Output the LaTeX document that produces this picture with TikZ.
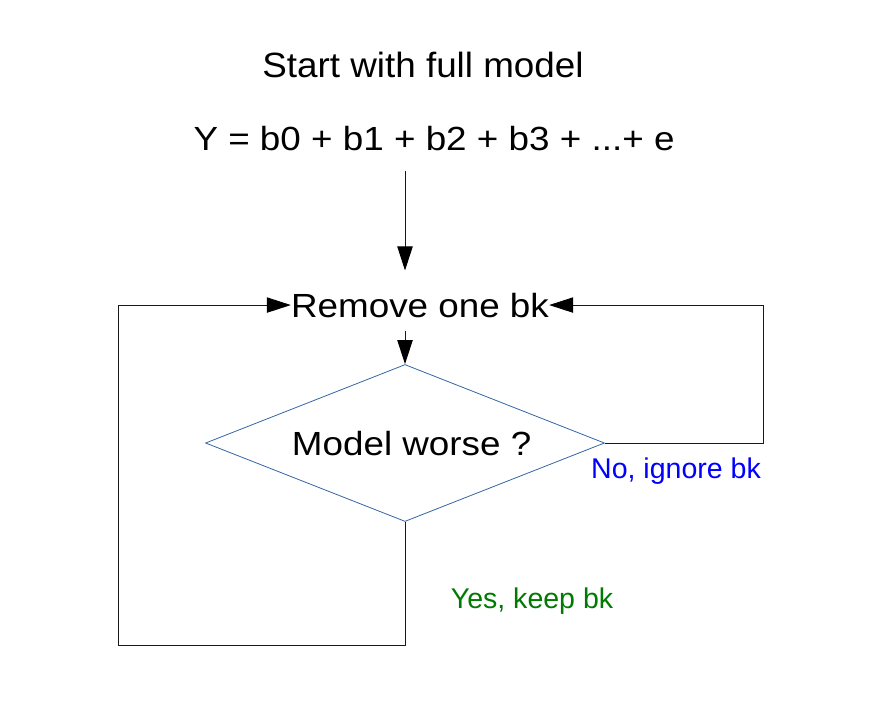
\documentclass[tikz,border=0pt]{standalone}
\usepackage{fontspec}
\setmainfont{Liberation Sans}
\newfontfamily\widefont[FakeStretch=1.1]{Liberation Sans}
\newfontfamily\startfont[FakeStretch=1.05]{Liberation Sans}
\usetikzlibrary{arrows.meta,shapes.geometric}

\definecolor{diablue}{HTML}{3465A4}
\definecolor{noblue}{HTML}{0000FF}
\definecolor{yesgreen}{HTML}{007A00}

\tikzset{
  bigtext/.style={font=\widefont\fontsize{25.1}{30}\selectfont, inner sep=0pt, anchor=base},
  labeltext/.style={font=\fontsize{21.4}{26}\selectfont, inner sep=0pt, anchor=base},
  arr/.style={-{Triangle[length=18pt,width=11.5pt,color=black]}, line width=0.75pt, draw=black!90},
}

\begin{document}
\begin{tikzpicture}[x=0.75pt, y=-0.75pt]
\useasboundingbox (0,0) rectangle (880,704);

% Header texts
\node[bigtext, font=\startfont\fontsize{26.3}{31}\selectfont] (start) at (423,77) {Start with full model};
\node[bigtext] (eq) at (434,150) {Y = b0 + b1 + b2 + b3 + ...+ e};

% Step and decision
\node[bigtext] (remove) at (420,317) {Remove one bk};
\node[draw=diablue, line width=0.6pt, shape=diamond, aspect=2.54, inner sep=0pt,
      minimum width=299.25pt, minimum height=117.75pt,
      font=\widefont\fontsize{25.1}{30}\selectfont,
      text depth=0pt] (dia) at (405,443) {\hspace*{10pt}Model worse ?};

% Corner points of the loops
\coordinate (ll) at (118,645);
\coordinate (rr) at (763,400);

% Arrows
\draw[arr, shorten <=15pt, shorten >=16.5pt] (eq.south -| dia.north) -- (remove.north -| dia.north);
\draw[arr, shorten <=10pt] (remove.south -| dia.north) -- (dia.north);
\draw[arr] (dia.south) |- (ll) |- (remove.west);
\draw[arr] (dia.east) -| (rr) |- (remove.east);

% Branch labels
\node[labeltext, text=noblue] (no) at (676,478) {No, ignore bk};
\node[labeltext, text=yesgreen] (yes) at (532,608) {Yes, keep bk};

\end{tikzpicture}
\end{document}
